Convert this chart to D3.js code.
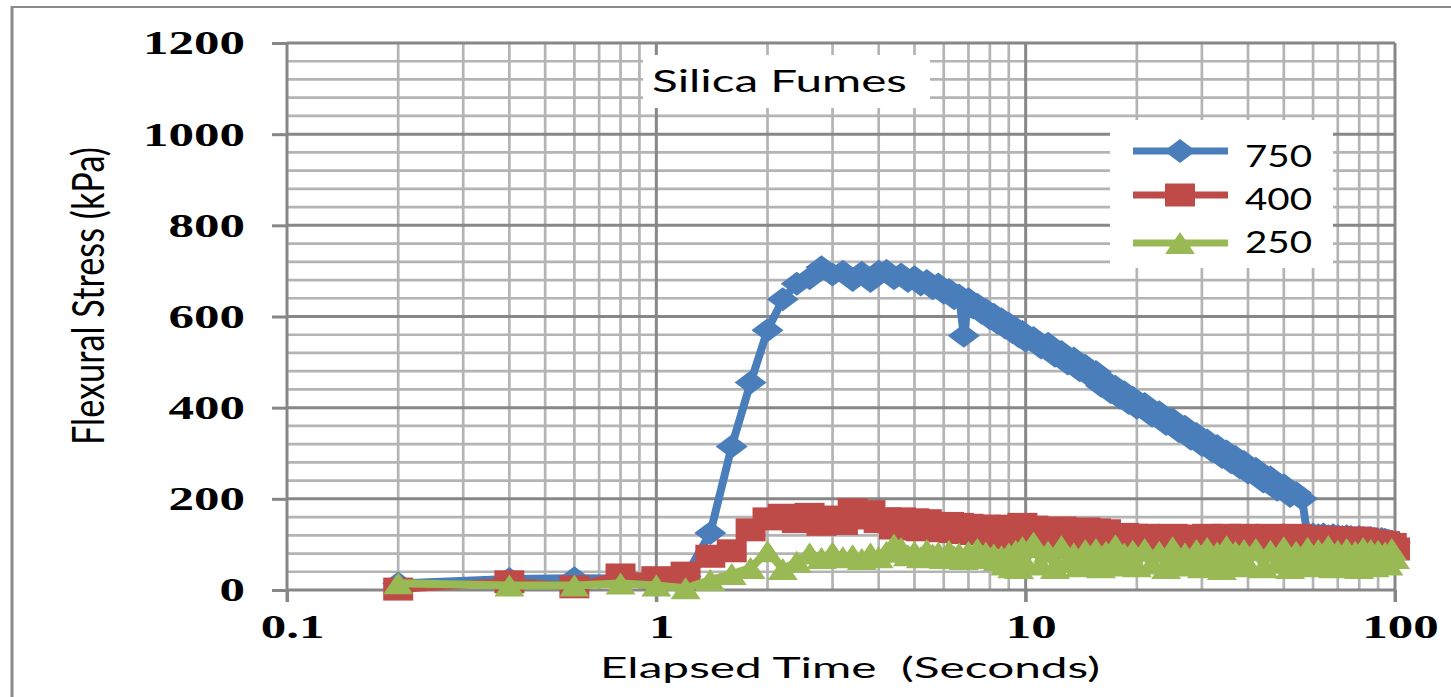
<!DOCTYPE html>
<html><head><meta charset="utf-8">
<script src="https://cdn.jsdelivr.net/npm/d3@7"></script>
<style>html,body{margin:0;padding:0;background:#fff;overflow:hidden} svg{display:block}</style>
</head><body>
<svg id="c" width="1451" height="697"></svg>
<script>
// ---------------- DATA ----------------
const times = [
 0.2,0.4,0.6,0.8,1.0,1.2,1.4,1.6,1.8,2.0,
 2.2,2.4,2.6,2.8,3.0,3.2,3.4,3.6,3.8,4.0,
 4.2,4.4,4.6,4.8,5.0,5.2,5.4,5.6,5.8,6.0,
 6.2,6.4,6.6,6.8,7.0,7.2,7.4,7.6,7.8,8.0,
 8.2,8.4,8.6,8.8,9.0,9.2,9.4,9.6,9.8,10.0,
 10.5,11,11.5,12,12.5,13,13.5,14,14.5,15,
 15.5,16,16.5,17,17.5,18,18.5,19,19.5,20,
 21,22,23,24,25,26,27,28,29,30,
 31,32,33,34,35,36,37,38,39,40,
 42,44,46,48,50,52,54,56,58,60,
 62,64,66,68,70,72,74,76,78,80,
 82,84,86,88,90,92,94,96,98,100
];
const s750 = [
 14,24,26,25,26,30,125,315,455,570,
 638,672,684,708,692,698,680,696,678,698,
 700,684,692,678,686,670,678,662,670,652,
 658,640,646,558,638,620,626,608,614,596,
 604,586,594,576,584,566,574,556,566,547,
 553,532,540,514,522,497,508,482,492,468,
 478,448,458,434,446,422,434,410,422,400,
 408,382,390,364,374,348,358,332,342,318,
 328,305,316,292,304,280,292,269,281,258,
 266,238,247,220,230,206,213,200,118,122,
 120,122,118,120,118,116,118,116,114,116,
 114,112,114,112,110,112,110,108,106,104
];
const s400 = [
 2,18,7,33,27,37,74,86,132,156,
 164,150,166,144,160,146,176,158,172,150,
 156,136,156,134,154,132,152,134,146,130,
 146,128,144,126,142,124,140,124,140,120,
 138,118,132,114,140,122,138,120,144,124,
 138,118,134,114,136,116,132,112,134,114,
 132,112,130,106,120,104,122,102,120,104,
 120,102,118,100,120,102,118,98,118,100,
 120,100,118,102,120,100,118,98,120,100,
 118,100,120,98,118,100,120,102,116,100,
 116,98,114,96,114,98,112,96,114,94,
 112,94,108,92,106,92,104,90,100,90
];
const s250 = [
 15,10,10,14,10,4,22,35,48,85,
 46,62,80,70,82,72,76,68,80,72,
 84,100,92,76,84,72,88,78,82,70,
 86,74,80,68,84,72,90,76,82,70,
 78,66,74,56,80,50,86,48,94,60,
 104,56,84,48,96,62,80,52,88,58,
 90,50,84,62,98,54,80,60,86,52,
 90,58,84,48,94,60,80,54,88,50,
 92,58,82,46,96,62,84,52,88,56,
 90,50,86,60,94,48,84,58,92,52,
 88,56,96,50,86,62,90,54,84,48,
 92,58,88,52,86,60,82,56,90,70
];
const seriesNames = ["750","400","250"];
const yTicks = [0,200,400,600,800,1000,1200];
const xTicks = [0.1,1,10,100];
const xTickLabels = ["0.1","1","10","100"];
const chartTitle = "Silica Fumes";
const xTitle = "Elapsed Time  (Seconds)";
const yTitle = "Flexural Stress (kPa)";

// ---------------- DRAW ----------------
const svg = d3.select('#c');
const L=287,R=1395,T=43,B=590;
const x = d3.scaleLog().domain([0.1,100]).range([L,R]);
const y = d3.scaleLinear().domain([0,1200]).range([B,T]);
const MAJ='#878787', MIN='#b4b4b4';
const SERIF="'Liberation Serif','Times New Roman',serif";
const SANS="Lato,'Open Sans',sans-serif";

function stretch(sel,k){
  sel.each(function(){
    const w=this.getComputedTextLength();
    this.setAttribute('textLength', w*k);
    this.setAttribute('lengthAdjust','spacingAndGlyphs');
  });
}

// outer frame
svg.append('line').attr('x1',12).attr('y1',6).attr('x2',12).attr('y2',697)
  .attr('stroke','#8a8a8a').attr('stroke-width',3);
svg.append('line').attr('x1',11).attr('y1',7).attr('x2',1451).attr('y2',7)
  .attr('stroke','#8a8a8a').attr('stroke-width',2);

// gridlines
const grid = svg.append('g');
const yMinor = d3.range(0,1201,40).filter(v=>v%200!==0);
const xAll = x.ticks();
const xMinor = xAll.filter(v=>xTicks.indexOf(v)<0);
grid.selectAll('line.ym').data(yMinor).join('line')
  .attr('x1',L).attr('x2',R).attr('y1',d=>y(d)).attr('y2',d=>y(d))
  .attr('stroke',MIN).attr('stroke-width',2.7);
grid.selectAll('line.xm').data(xMinor).join('line')
  .attr('y1',T).attr('y2',B).attr('x1',d=>x(d)).attr('x2',d=>x(d))
  .attr('stroke',MIN).attr('stroke-width',2.7);
grid.selectAll('line.yM').data(yTicks).join('line')
  .attr('x1',L).attr('x2',R).attr('y1',d=>y(d)).attr('y2',d=>y(d))
  .attr('stroke',MAJ).attr('stroke-width',3);
grid.selectAll('line.xM').data(xTicks).join('line')
  .attr('y1',T).attr('y2',B+12).attr('x1',d=>x(d)).attr('x2',d=>x(d))
  .attr('stroke',MAJ).attr('stroke-width',3);

// axes
const gy = svg.append('g').attr('transform',`translate(${L},0)`)
  .call(d3.axisLeft(y).tickValues(yTicks).tickFormat(d3.format('d')).tickSize(15).tickSizeOuter(0).tickPadding(27));
gy.select('.domain').remove();
gy.selectAll('.tick line').attr('stroke',MAJ).attr('stroke-width',3);
gy.selectAll('.tick text').attr('fill','#000').style('font-family',SERIF)
  .style('font-weight','bold').style('font-size','34px');
stretch(gy.selectAll('.tick text'),1.5);

const gx = svg.append('g').attr('transform',`translate(0,${B})`)
  .call(d3.axisBottom(x).tickValues(xTicks).tickFormat((d,i)=>xTickLabels[i]).tickSize(12).tickSizeOuter(0));
gx.select('.domain').remove();
gx.selectAll('.tick line').attr('stroke',MAJ).attr('stroke-width',3);
gx.selectAll('.tick text').attr('fill','#000').attr('y',48).attr('dy',null).attr('x',5)
  .style('font-family',SERIF).style('font-weight','bold').style('font-size','34px');
stretch(gx.selectAll('.tick text'),1.5);

// series
const shapes = {
  diamond:(w,h)=>`M0,${-h/2}L${w/2},0L0,${h/2}L${-w/2},0Z`,
  square:(w,h)=>`M${-w/2},${-h/2}H${w/2}V${h/2}H${-w/2}Z`,
  triangle:(w,h)=>`M0,${-h/2}L${w/2},${h/2}H${-w/2}Z`
};
const series = [
  {name:seriesNames[0], vals:s750, color:'#4a7ebb', shape:'diamond', w:32, h:24},
  {name:seriesNames[1], vals:s400, color:'#be4b48', shape:'square', w:30, h:23},
  {name:seriesNames[2], vals:s250, color:'#98b954', shape:'triangle', w:30, h:22}
];
const line = d3.line().x((d,i)=>x(times[i])).y(d=>y(d));
series.forEach(s=>{
  const g = svg.append('g');
  g.append('path').attr('d',line(s.vals)).attr('fill','none')
    .attr('stroke',s.color).attr('stroke-width',8).attr('stroke-linejoin','round');
  g.selectAll('path.m').data(s.vals).join('path').attr('class','m')
    .attr('transform',(d,i)=>`translate(${x(times[i])},${y(d)})`)
    .attr('d',shapes[s.shape](s.w,s.h)).attr('fill',s.color);
});

// title box
svg.append('rect').attr('x',643).attr('y',55).attr('width',287).attr('height',53).attr('fill','#fff');
svg.append('text').attr('x',652).attr('y',92).text(chartTitle)
  .style('font-family',SANS).style('font-size','30px').attr('fill','#000')
  .attr('textLength',255).attr('lengthAdjust','spacingAndGlyphs');

// legend
const lg = svg.append('g');
lg.append('rect').attr('x',1110).attr('y',120).attr('width',223).attr('height',148).attr('fill','#fff');
const rowsY=[151,195,243], txtY=[167,210,253];
series.forEach((s,i)=>{
  lg.append('line').attr('x1',1133).attr('x2',1228).attr('y1',rowsY[i]).attr('y2',rowsY[i])
    .attr('stroke',s.color).attr('stroke-width',7);
  lg.append('path').attr('transform',`translate(1180,${rowsY[i]})`)
    .attr('d',shapes[s.shape](s.w,s.h)).attr('fill',s.color);
  lg.append('text').attr('x',1245).attr('y',txtY[i]).text(s.name)
    .style('font-family',SANS).style('font-size','30px').attr('fill','#000')
    .attr('textLength',67).attr('lengthAdjust','spacingAndGlyphs');
});

// axis titles
svg.append('text').attr('x',850).attr('y',678).attr('text-anchor','middle').text(xTitle)
  .style('white-space','pre').style('font-family',SANS).style('font-size','28px').attr('fill','#000')
  .attr('textLength',500).attr('lengthAdjust','spacingAndGlyphs');
svg.append('text').attr('transform','translate(104,296) scale(1.5,1) rotate(-90)')
  .attr('text-anchor','middle').text(yTitle)
  .style('font-family',SANS).style('font-size','29px').attr('fill','#000')
  .attr('textLength',298).attr('lengthAdjust','spacingAndGlyphs');
</script>
</body></html>
